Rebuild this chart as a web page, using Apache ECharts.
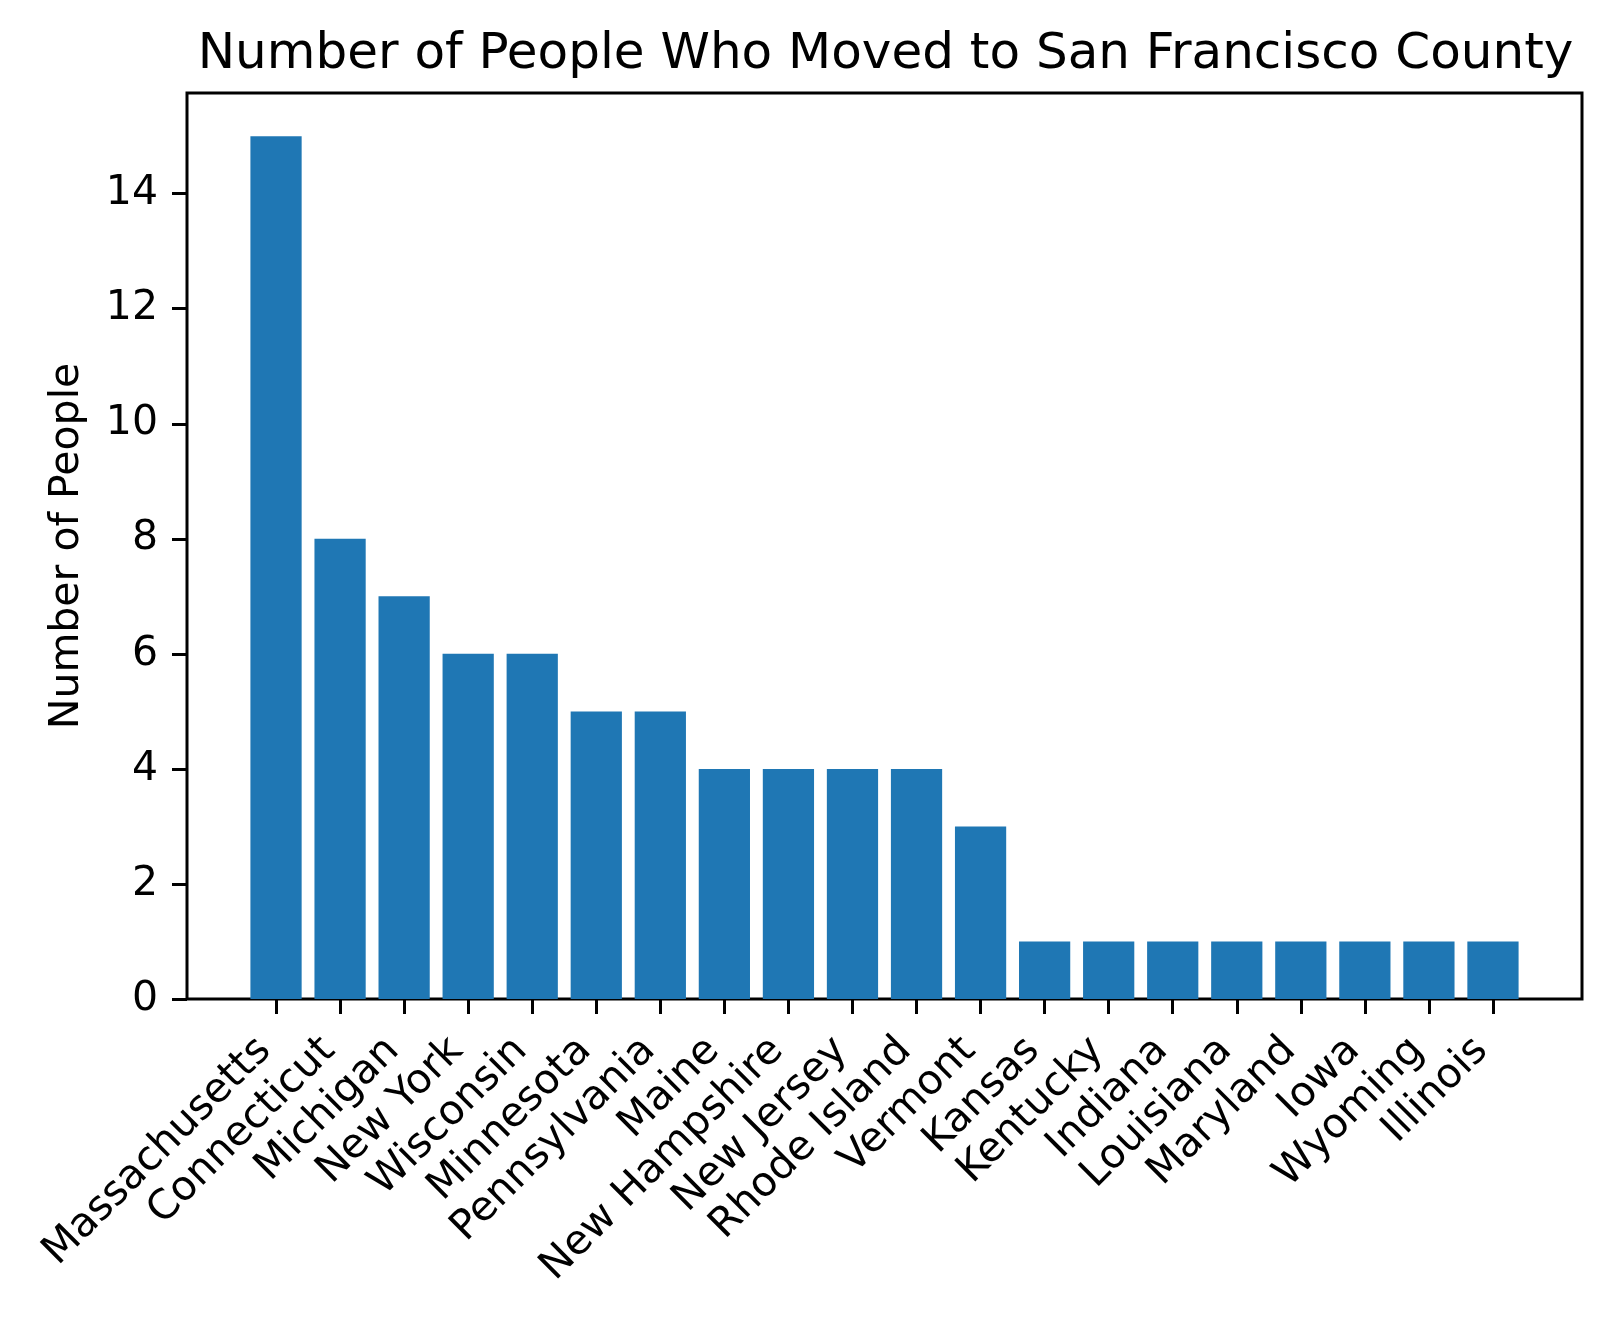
<!DOCTYPE html>
<html>
<head>
<meta charset="utf-8">
<script src="https://cdn.jsdelivr.net/npm/echarts@6/dist/echarts.min.js"></script>
<style>
html, body { margin: 0; padding: 0; background: #fff; }
#main { width: 1615px; height: 1320px; }
</style>
</head>
<body>
<div id="main"></div>
<script>
var states = ['Massachusetts', 'Connecticut', 'Michigan', 'New York', 'Wisconsin',
    'Minnesota', 'Pennsylvania', 'Maine', 'New Hampshire', 'New Jersey',
    'Rhode Island', 'Vermont', 'Kansas', 'Kentucky', 'Indiana',
    'Louisiana', 'Maryland', 'Iowa', 'Wyoming', 'Illinois'];
var people = [15, 8, 7, 6, 6, 5, 5, 4, 4, 4, 4, 3, 1, 1, 1, 1, 1, 1, 1, 1];
var yTicks = [0, 2, 4, 6, 8, 10, 12, 14];

var dom = document.getElementById('main');
var myChart = echarts.init(dom);
var font = 'DejaVu Sans';

// matplotlib-like margins: frame grid is wider than the bar grid
var frameLeft = 187, frameRight = 1582, plotTop = 93, plotBottom = 999;
var xMin = -1.39, xMax = 20.39;
var unit = (frameRight - frameLeft) / (xMax - xMin);
var barLeft = frameLeft + (-0.5 - xMin) * unit;
var barRight = frameLeft + (19.5 - xMin) * unit;

option = {
    backgroundColor: '#fff',
    animation: false,
    title: {
        text: 'Number of People Who Moved to San Francisco County',
        left: (frameLeft + frameRight) / 2 - 4,
        textAlign: 'center',
        top: 25,
        textStyle: { fontFamily: font, fontSize: 50, fontWeight: 'normal', color: '#000' }
    },
    grid: [
        {
            left: frameLeft, width: frameRight - frameLeft, top: plotTop, height: plotBottom - plotTop,
            show: true, borderColor: '#000', borderWidth: 3, backgroundColor: 'transparent'
        },
        {
            left: barLeft, width: barRight - barLeft, top: plotTop, height: plotBottom - plotTop
        }
    ],
    xAxis: [
        { type: 'value', gridIndex: 0, min: 0, max: 1, show: false },
        {
            type: 'category', gridIndex: 1, data: states,
            axisLine: { show: false },
            axisTick: { show: true, alignWithLabel: true, length: 15, lineStyle: { color: '#000', width: 3 } },
            axisLabel: {
                rotate: 45, interval: 0, margin: 34, padding: [0, 16, 0, 0],
                fontFamily: font, fontSize: 41, color: '#000'
            }
        }
    ],
    yAxis: [
        {
            type: 'value', gridIndex: 0, min: 0, max: 15.75, interval: 2,
            name: 'Number of People', nameLocation: 'middle', nameGap: 99,
            nameTextStyle: { fontFamily: font, fontSize: 41, color: '#000' },
            axisLine: { show: false },
            axisTick: { show: true, length: 15, lineStyle: { color: '#000', width: 3 } },
            axisLabel: {
                margin: 29, fontFamily: font, fontSize: 41, color: '#000',
                showMaxLabel: false
            },
            splitLine: { show: false }
        },
        { type: 'value', gridIndex: 1, min: 0, max: 15.75, show: false }
    ],
    series: [
        {
            type: 'bar', xAxisIndex: 1, yAxisIndex: 1,
            data: people, barWidth: '80%',
            itemStyle: { color: '#1f77b4' }
        }
    ]
};
if (option && typeof option === 'object') {
    myChart.setOption(option, true);
}
</script>
</body>
</html>
